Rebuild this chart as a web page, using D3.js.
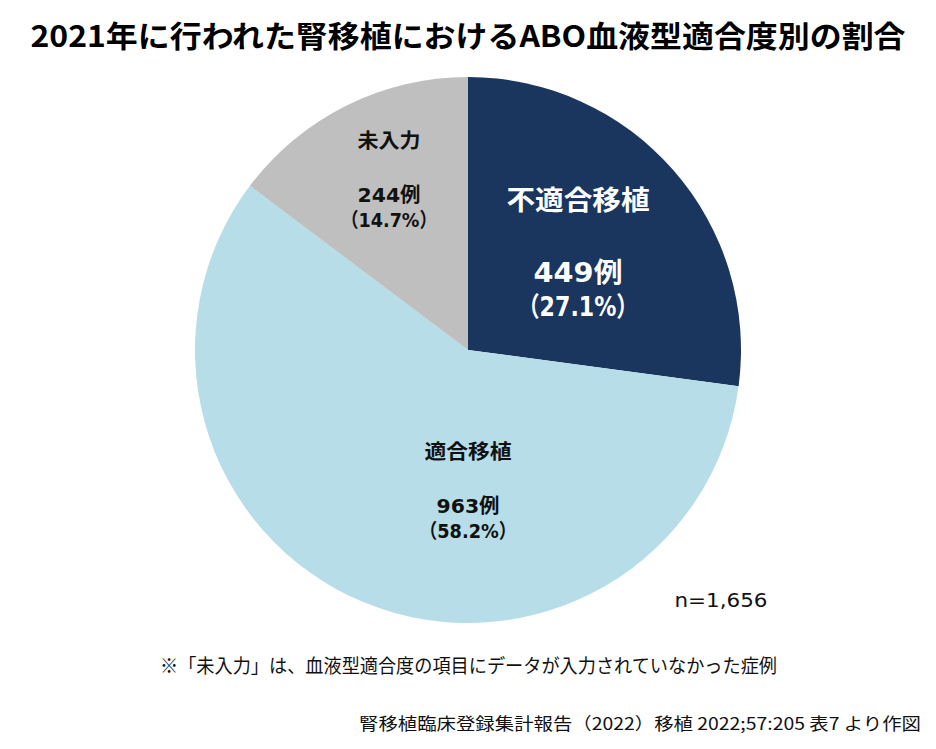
<!DOCTYPE html>
<html>
<head>
<meta charset="utf-8">
<script src="https://cdn.jsdelivr.net/npm/d3@7"></script>
<style>
  html, body { margin: 0; padding: 0; background: #ffffff; }
  svg { display: block; }
</style>
</head>
<body>
<div id="canvas"></div>
<script>
"use strict"

/* Data: ABO compatibility of kidney transplants, 2021 */
let categories = ["不適合移植", "適合移植", "未入力"];
let counts = [449, 963, 244];
let percentLabels = ["（27.1%）", "（58.2%）", "（14.7%）"];
let countLabels = ["449例", "963例", "244例"];
let sliceColors = ["#1a365e", "#b7dde8", "#bfbfbf"];

let titleText = "2021年に行われた腎移植におけるABO血液型適合度別の割合";
let totalText = "n=1,656";
let noteText = "※「未入力」は、血液型適合度の項目にデータが入力されていなかった症例";
let sourceText = "腎移植臨床登録集計報告（2022）移植 2022;57:205 表7 より作図";

/* Drawing config */
let svgWidth = 936;
let svgHeight = 749;
let center = { x: 468, y: 350 };
let radius = 273;
let fontStack = "'DejaVu Sans', 'Noto Sans CJK JP', sans-serif";
let cjkStack = "'Noto Sans CJK JP', sans-serif";

let svg = d3.select("#canvas")
    .append("svg")
    .attr("width", svgWidth)
    .attr("height", svgHeight);

svg.append("rect")
    .attr("width", svgWidth)
    .attr("height", svgHeight)
    .attr("fill", "#ffffff");

/* Title */
svg.append("text")
    .attr("x", 468)
    .attr("y", 47)
    .attr("text-anchor", "middle")
    .attr("textLength", 875)
    .attr("lengthAdjust", "spacingAndGlyphs")
    .style("font-family", cjkStack)
    .style("font-weight", "bold")
    .style("font-size", "30px")
    .text(titleText);

/* Pie */
let pie = d3.pie().sort(null).value(function(d) { return d; });
let arc = d3.arc().innerRadius(0).outerRadius(radius);

let pieGroup = svg.append("g")
    .attr("transform", "translate(" + center.x + "," + center.y + ")");

pieGroup.selectAll("path")
    .data(pie(counts))
    .join("path")
    .attr("d", arc)
    .attr("fill", function(d, i) { return sliceColors[i]; });

/* Slice labels: anchor (relative to pie centre), font size, colour, widths */
let labelLayout = [
    { dx: 110, y: 210, size: 27, color: "#ffffff", w: [143, 89, 121] },
    { dx: 0,   y: 459, size: 20, color: "#111111", w: [87, 63, 97] },
    { dx: -79, y: 148, size: 20, color: "#111111", w: [63, 63, 96] }
];

for (let i = 0; i < categories.length; i++) {
    let L = labelLayout[i];
    let lines = [categories[i], countLabels[i], percentLabels[i]];
    let ys = [L.y, L.y + 2.68 * L.size, L.y + 2.68 * L.size + 1.25 * L.size];
    for (let j = 0; j < lines.length; j++) {
        svg.append("text")
            .attr("x", center.x + L.dx)
            .attr("y", ys[j])
            .attr("text-anchor", "middle")
            .attr("textLength", L.w[j])
            .attr("lengthAdjust", "spacingAndGlyphs")
            .attr("fill", L.color)
            .style("font-family", fontStack)
            .style("font-weight", "bold")
            .style("font-size", L.size + "px")
            .text(lines[j]);
    }
}

/* n total */
svg.append("text")
    .attr("x", 721)
    .attr("y", 607)
    .attr("text-anchor", "middle")
    .attr("textLength", 93)
    .attr("lengthAdjust", "spacingAndGlyphs")
    .attr("fill", "#111111")
    .style("font-family", fontStack)
    .style("font-size", "19px")
    .text(totalText);

/* Footnote */
svg.append("text")
    .attr("x", 160)
    .attr("y", 673)
    .attr("textLength", 617)
    .attr("lengthAdjust", "spacingAndGlyphs")
    .attr("fill", "#111111")
    .style("font-family", cjkStack)
    .style("font-size", "19px")
    .text(noteText);

/* Source */
svg.append("text")
    .attr("x", 921)
    .attr("y", 730)
    .attr("text-anchor", "end")
    .attr("textLength", 562)
    .attr("lengthAdjust", "spacingAndGlyphs")
    .attr("fill", "#111111")
    .style("font-family", cjkStack)
    .style("font-size", "17px")
    .text(sourceText);
</script>
</body>
</html>
